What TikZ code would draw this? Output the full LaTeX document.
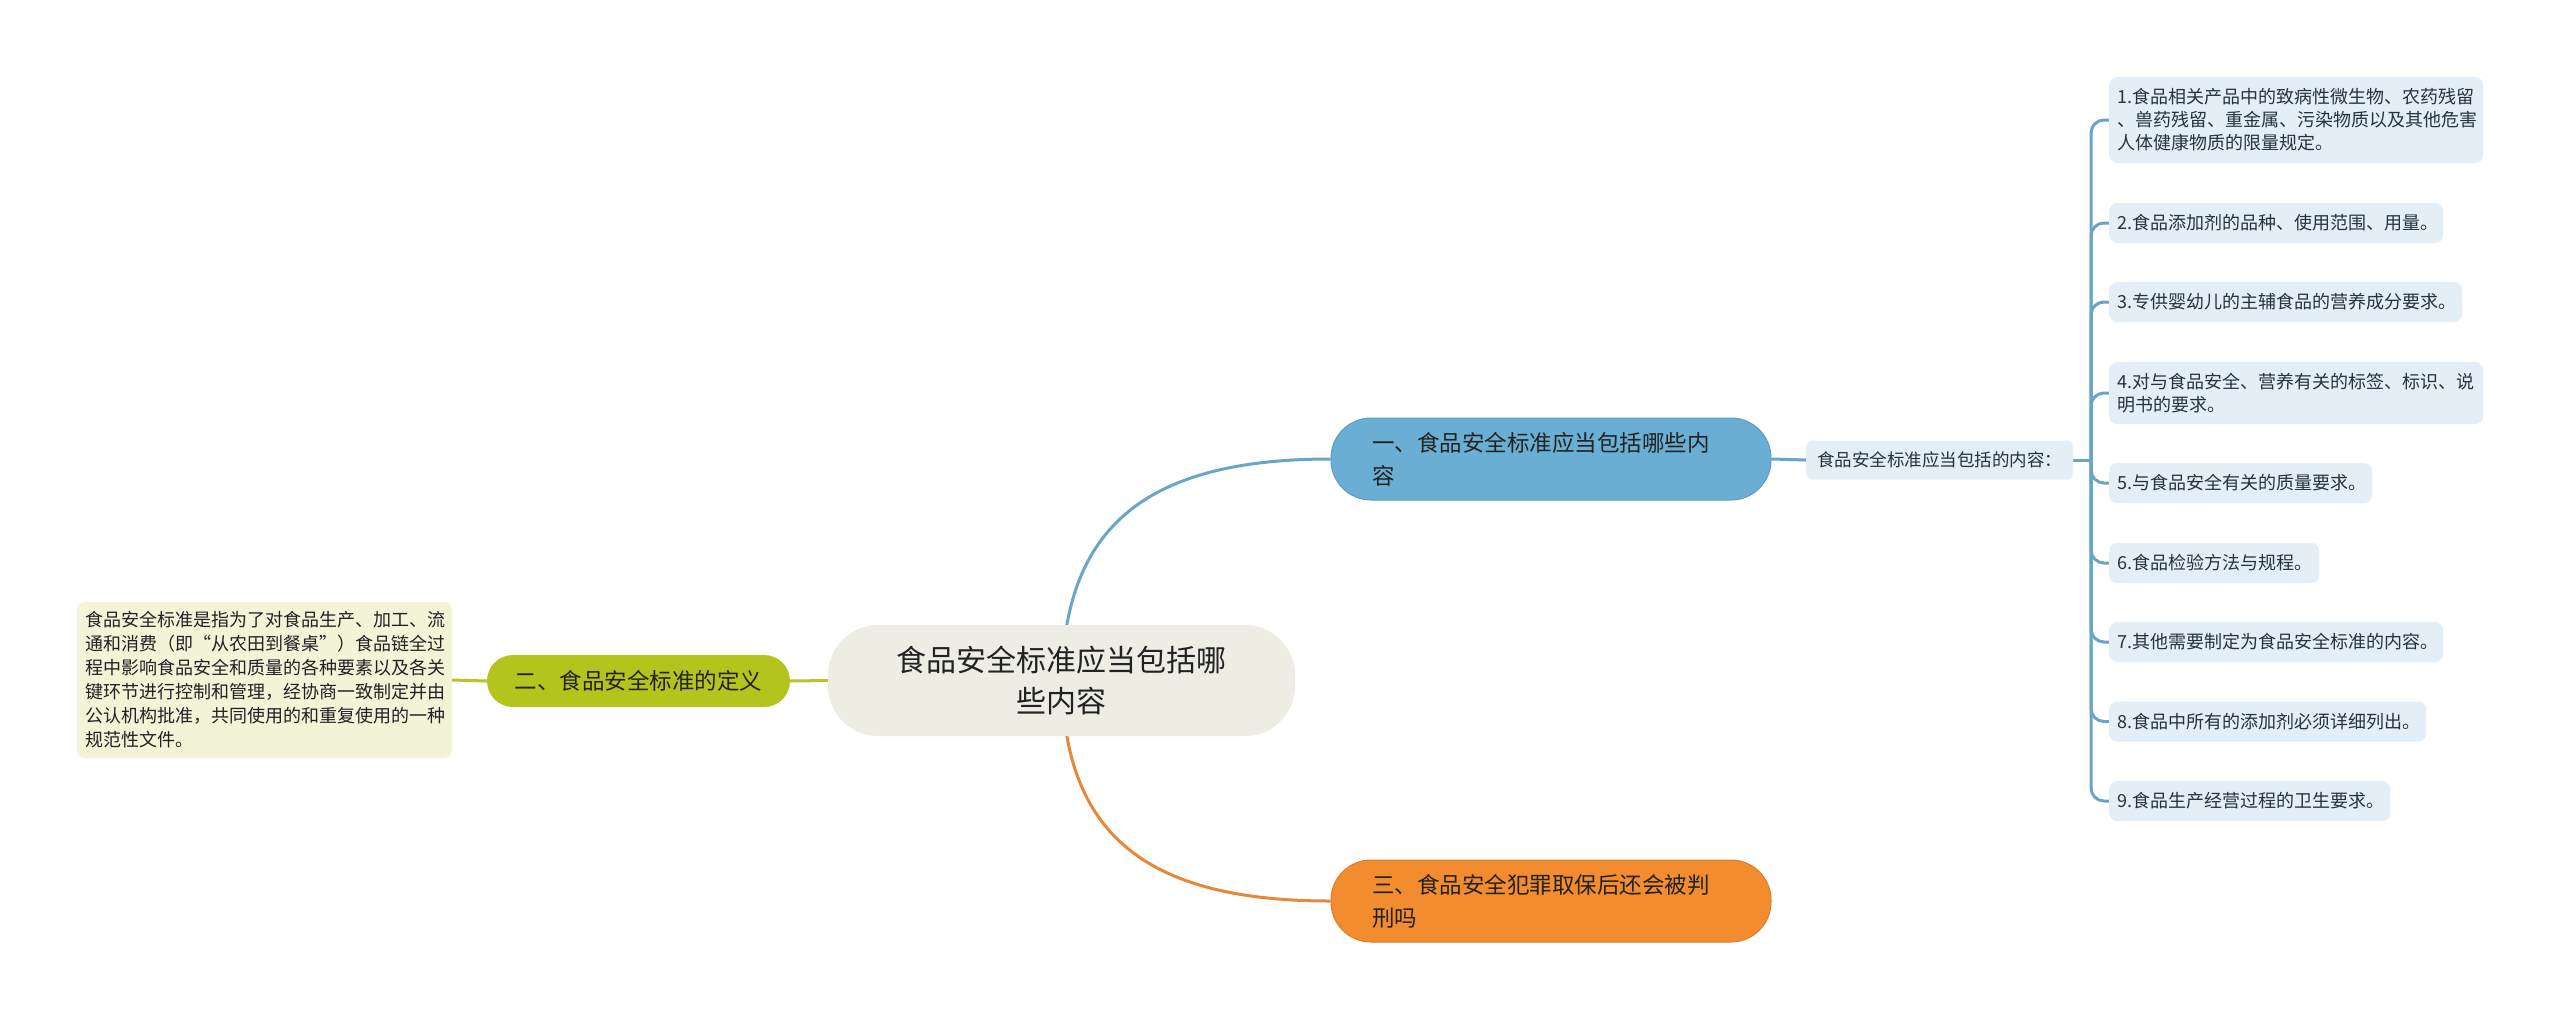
\documentclass[tikz,border=0pt]{standalone}
\usepackage{fontspec}
\setmainfont{Noto Sans CJK SC}
\definecolor{centralfill}{HTML}{EDEDE4}
\definecolor{bluefill}{HTML}{6BAED3}
\definecolor{blueborder}{HTML}{5A9CC2}
\definecolor{blueline}{HTML}{6AA5C8}
\definecolor{orangefill}{HTML}{F28C2E}
\definecolor{orangeborder}{HTML}{DE7D26}
\definecolor{orangeline}{HTML}{E6873A}
\definecolor{olivefill}{HTML}{B5C31D}
\definecolor{oliveline}{HTML}{B8C42A}
\definecolor{deffill}{HTML}{F2F3D7}
\definecolor{leaffill}{HTML}{E3EEF6}
\definecolor{leaftext}{HTML}{26323D}
\definecolor{maintext}{HTML}{222222}
\pgfdeclarelayer{background}
\pgfsetlayers{background,main}
\tikzset{
  central/.style={fill=centralfill, rounded corners=50pt, minimum width=467pt, minimum height=111pt,
    inner sep=0pt, align=center, text=maintext, font=\fontsize{30}{41}\selectfont},
  topic/.style={rounded corners=40pt, minimum height=82pt, inner sep=0pt, inner xsep=41pt,
    text width=358pt, align=left, text=maintext, font=\fontsize{22.5}{33}\selectfont, line width=1pt},
  topicsmall/.style={fill=olivefill, rounded corners=26pt, minimum width=303pt, minimum height=52pt,
    inner sep=0pt, align=center, text=maintext, font=\fontsize{22.5}{30}\selectfont},
  defbox/.style={fill=deffill, rounded corners=8pt, minimum width=375pt, minimum height=156pt,
    inner sep=0pt, inner xsep=8pt, text width=359pt, align=left, text=maintext,
    font=\fontsize{18}{24}\selectfont},
  subbox/.style={fill=leaffill, rounded corners=7pt, minimum width=267pt, minimum height=39pt,
    inner sep=0pt, align=center, text=leaftext, font=\fontsize{17.5}{23}\selectfont},
  leaf/.style={fill=leaffill, rounded corners=8pt, minimum height=40pt, inner sep=0pt, inner xsep=8pt,
    align=left, text=leaftext, font=\fontsize{18}{23}\selectfont, anchor=west},
  bline/.style={draw=blueline, line width=3pt},
  trunk/.style={draw=blueline, line width=3pt, rounded corners=13pt},
  oline/.style={draw=orangeline, line width=3pt},
  gline/.style={draw=oliveline, line width=3pt},
}
\begin{document}
\begin{tikzpicture}[x=1pt,y=-1pt]
\useasboundingbox (0,0) rectangle (2560,1021);

\coordinate (cTop) at (1066,630);
\coordinate (cBot) at (1066,731);

\node[central] (root) at (1061.5,680.5) {食品安全标准应当包括哪\\些内容};
\node[topic, fill=bluefill, draw=blueborder] (t1) at (1551,459) {一、食品安全标准应当包括哪些内\\容};
\node[topicsmall] (t2) at (638.5,681) {二、食品安全标准的定义};
\node[topic, fill=orangefill, draw=orangeborder] (t3) at (1551,901) {三、食品安全犯罪取保后还会被判\\刑吗};
\node[defbox] (def) at (264.5,680) {食品安全标准是指为了对食品生产、加工、流\\通和消费（即“从农田到餐桌”）食品链全过\\程中影响食品安全和质量的各种要素以及各关\\键环节进行控制和管理，经协商一致制定并由\\公认机构批准，共同使用的和重复使用的一种\\规范性文件。};
\node[subbox] (sub) at (1939.5,460) {食品安全标准应当包括的内容：};

\node[leaf, minimum width=374pt, minimum height=86pt, text width=358pt] (l1) at (2109,120) {1.食品相关产品中的致病性微生物、农药残留\\、兽药残留、重金属、污染物质以及其他危害\\人体健康物质的限量规定。};
\node[leaf, minimum width=334pt, text width=318pt] (l2) at (2109,223) {2.食品添加剂的品种、使用范围、用量。};
\node[leaf, minimum width=353pt, text width=337pt] (l3) at (2109,302) {3.专供婴幼儿的主辅食品的营养成分要求。};
\node[leaf, minimum width=374pt, minimum height=62pt, text width=358pt] (l4) at (2109,393) {4.对与食品安全、营养有关的标签、标识、说\\明书的要求。};
\node[leaf, minimum width=263pt, text width=247pt] (l5) at (2109,483) {5.与食品安全有关的质量要求。};
\node[leaf, minimum width=210pt, text width=194pt] (l6) at (2109,563) {6.食品检验方法与规程。};
\node[leaf, minimum width=334pt, text width=318pt] (l7) at (2109,642) {7.其他需要制定为食品安全标准的内容。};
\node[leaf, minimum width=317pt, text width=301pt] (l8) at (2109,721.5) {8.食品中所有的添加剂必须详细列出。};
\node[leaf, minimum width=281pt, text width=265pt] (l9) at (2109,801) {9.食品生产经营过程的卫生要求。};

\coordinate (J) at (2091,460);

\begin{pgfonlayer}{background}
\fill[white] (0,0) rectangle (2560,1021);
\draw[bline] (cTop) .. controls (1085,510) and (1170,459) .. (t1.west);
\draw[oline] (cBot) .. controls (1085,851) and (1170,901) .. (t3.west);
\draw[gline] (t2.east) -- (root.west);
\draw[gline] (def.east) -- (t2.west);
\draw[bline] (t1.east) -- (sub.west);
\draw[bline] (sub.east) -- (J);
\foreach \i in {1,...,9} {
  \draw[trunk] (J) |- (l\i.west);
}
\end{pgfonlayer}
\end{tikzpicture}
\end{document}
